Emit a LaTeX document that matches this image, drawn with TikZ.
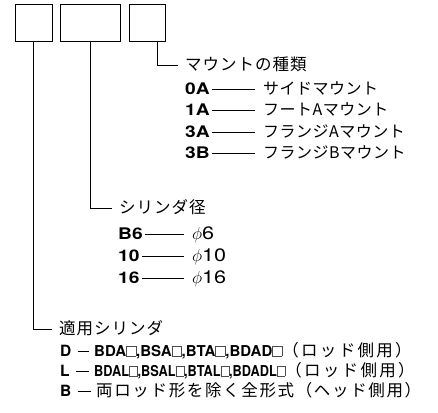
\documentclass[tikz,border=0pt]{standalone}
\usepackage{graphicx}
\usepackage{fontspec}
\setmainfont{TeX Gyre Heros}
\newfontfamily\jpfont{Noto Sans CJK JP}[LetterSpace=3]
\newfontfamily\jpwide{Noto Sans CJK JP}[LetterSpace=6]
\newfontfamily\jpwider{Noto Sans CJK JP}[LetterSpace=10]
\newfontfamily\jpparen{Noto Sans CJK JP}[LetterSpace=14]
\newfontfamily\codefont{TeX Gyre Heros}[FakeStretch=1.2]

% small blank square used in the model names
\newcommand{\blank}{{\color{black!70}\setlength{\fboxsep}{0pt}\setlength{\fboxrule}{0.5pt}\fbox{\rule{0pt}{10pt}\hspace{9pt}}}}

\begin{document}
\begin{tikzpicture}[x=1pt, y=-1pt,
  slot/.style={draw, line width=0.9pt, minimum height=37pt, inner sep=0pt},
  wire/.style={line width=0.8pt},
  head/.style={anchor=west, inner xsep=7pt, inner ysep=0pt, text height=10pt, text depth=0pt,
               font=\jpwide\fontsize{16.5}{16.5}\selectfont},
  code/.style={anchor=west, inner xsep=2pt, inner ysep=0pt, text height=10pt, text depth=0pt,
               font=\codefont\bfseries\fontsize{16}{16}\selectfont},
  item/.style={anchor=west, inner xsep=8pt, inner ysep=0pt, text height=10pt, text depth=0pt,
               font=\jpfont\fontsize{16}{16}\selectfont},
  tag/.style={anchor=west, inner xsep=6pt, inner ysep=0pt, text height=10pt, text depth=0pt,
              font=\bfseries\fontsize{15.5}{15.5}\selectfont},
  list/.style={anchor=west, inner xsep=5pt, inner ysep=0pt, text height=10pt, text depth=0pt,
               font=\bfseries\fontsize{15}{15}\selectfont},
]

% -------------------------------------------------------
% Layout parameters
% -------------------------------------------------------
\def\yMount{65}    % mount header
\def\yBore{208}    % bore header
\def\ySeries{329}  % series header
\def\dy{21.5}      % row pitch

\useasboundingbox (0,0) rectangle (438,412);

%%%%%% CODE SLOTS
\node[slot, minimum width=37pt] (bSeries) at (33.5,22.5) {};
\node[slot, minimum width=60pt] (bBore)   at (90,22.5)   {};
\node[slot, minimum width=36pt] (bMount)  at (147,22.5)  {};

%%%%%% MOUNT TYPE
\node[head] (hMount) at (178,\yMount) {マウントの種類};
\draw[wire] ([xshift=10pt]bMount.south) |- (hMount.west);

\foreach \code/\name [count=\i from 0] in {0A/サイドマウント, 1A/フートAマウント, 3A/フランジAマウント, 3B/フランジBマウント}{
  \node[code] (mc\i) at (183,\yMount+24+\dy*\i) {\code};
  \node[item] (ml\i) at (255,\yMount+24+\dy*\i) {\name};
  \draw[wire] (mc\i) -- (ml\i);
}

%%%%%% BORE SIZE
\node[head] (hBore) at (112,\yBore) {シリンダ径};
\draw[wire] (bBore.south) |- (hBore.west);

\foreach \code/\size [count=\i from 0] in {B6/6, 10/10, 16/16}{
  \node[code] (bc\i) at (116,\yBore+26+22*\i) {\code};
  \node[item, font=\codefont\fontsize{18}{18}\selectfont] (bl\i) at (184,\yBore+26+22*\i) {$\phi$\size};
  \draw[wire] (bc\i) -- (bl\i);
}

%%%%%% APPLICABLE CYLINDER
\node[head] (hSeries) at (52,\ySeries) {適用シリンダ};
\draw[wire] (bSeries.south) |- (hSeries.west);

\node[tag]  (tD) at (54,\ySeries+22) {D};
\node[list] (sD) at (89,\ySeries+22) {BDA\blank,BSA\blank,BTA\blank,BDAD\blank{\mdseries\jpparen\fontsize{16.5}{16.5}\selectfont （ロッド側用）}};
\node[tag]  (tL) at (54,\ySeries+42) {L};
\node[list] (sL) at (89,\ySeries+42) {\scalebox{0.85}[1]{BDAL\blank,BSAL\blank,BTAL\blank,BDADL\blank}{\mdseries\jpparen\fontsize{16.5}{16.5}\selectfont （ロッド側用）}};
\node[tag]  (tB) at (54,\ySeries+62) {B};
\node[list, font=\jpwider\fontsize{16.5}{16.5}\selectfont] (sB) at (91,\ySeries+62) {両ロッド形を除く全形式（ヘッド側用）};

\draw[wire] (tD) -- (sD);
\draw[wire] (tL) -- (sL);
\draw[wire] (tB) -- (sB);

\end{tikzpicture}
\end{document}
